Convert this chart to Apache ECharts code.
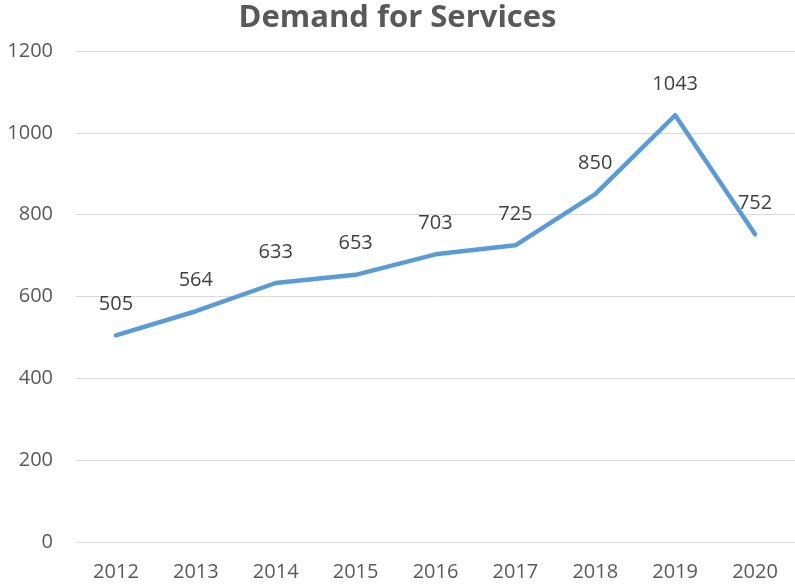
<!DOCTYPE html>
<html><head><meta charset="utf-8">
<script src="https://cdn.jsdelivr.net/npm/echarts@6/dist/echarts.min.js"></script>
<style>html,body{margin:0;padding:0;background:#fff}#c{width:795px;height:585px}</style>
</head><body><div id="c"></div>
<script>
const categories = ['2012','2013','2014','2015','2016','2017','2018','2019','2020'];
const demand = [505,564,633,653,703,725,850,1043,752];
const chart = echarts.init(document.getElementById('c'));
chart.setOption({
  animation:false,
  title:{text:'Demand for Services',left:'center',top:-2,textStyle:{fontFamily:'Open Sans',fontWeight:'bold',fontSize:31,color:'#595959'}},
  grid:{left:76,right:0,top:51,bottom:43,containLabel:false},
  xAxis:{type:'category',data:categories,boundaryGap:true,
    axisLine:{lineStyle:{color:'#d9d9d9',width:1}},axisTick:{show:false},
    axisLabel:{margin:20,fontFamily:'Open Sans',fontSize:20,color:'#595959'}},
  yAxis:{type:'value',min:0,max:1200,interval:200,
    axisLine:{show:false},axisTick:{show:false},
    splitLine:{lineStyle:{color:'#d9d9d9',width:1}},
    axisLabel:{margin:23,fontFamily:'Open Sans',fontSize:20,color:'#595959',formatter:function(v){return String(v);}}},
  series:[{type:'line',data:demand,symbol:'circle',symbolSize:0.1,showSymbol:true,
    lineStyle:{color:'#5b9bd5',width:4.5,cap:'round',join:'round'},
    itemStyle:{color:'#5b9bd5'},
    label:{show:true,position:'top',distance:21,fontFamily:'Open Sans',fontSize:20,color:'#404040'}}]
});
</script></body></html>
